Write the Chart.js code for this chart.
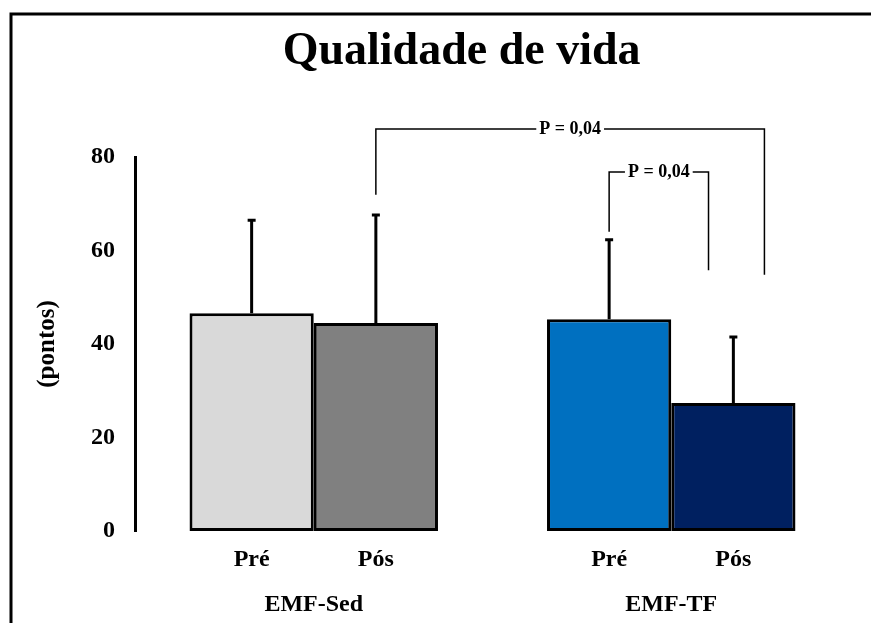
<!DOCTYPE html>
<html>
<head>
<meta charset="utf-8">
<script src="https://cdn.jsdelivr.net/npm/chart.js@4"></script>
<style>
    body { margin: 0; background: #fff; }
    #wrap { width: 871px; height: 623px; }
</style>
</head>
<body>
<div id="wrap"><canvas id="myChart"></canvas></div>
<script>
// data
var chartTitle = 'Qualidade de vida';
var groups = ['EMF-Sed', 'EMF-TF'];
var phases = ['Pré', 'Pós'];
var preMean = [46.6, 45.3];
var posMean = [44.5, 27.4];
var preSD = [20.1, 17.2];
var posSD = [23.3, 14.3];
var preColors = ['#d9d9d9', '#0070c0'];
var posColors = ['#808080', '#002060'];

// significance brackets (y values in points)
var bracketText = ['P = 0,04', 'P = 0,04'];
var bracketTop = [86, 76.8];
var bracketLeftEnd = [71.9, 64];
var bracketRightEnd = [54.8, 55.8];
var bracketFrom = [[1, 0, 0], [0, 1, 0]];      // [dataset, bar, offset in bar widths]
var bracketTo = [[1, 1, 0.25], [1, 1, -0.2]];

var serif = "'Liberation Serif', 'Times New Roman', serif";

var decorPlugin = {
    id: 'decor',
    beforeDraw: function(chart) {
        var c = chart.ctx;
        c.save();
        c.fillStyle = '#fff';
        c.fillRect(0, 0, chart.width, chart.height);
        c.restore();
    },
    afterDraw: function(chart) {
        var c = chart.ctx;
        var y = chart.scales.y;
        var sds = [preSD, posSD];
        c.save();

        // frame (top and left only)
        c.strokeStyle = '#000';
        c.lineWidth = 3;
        c.beginPath();
        c.moveTo(chart.width, 14);
        c.lineTo(11, 14);
        c.lineTo(11, chart.height);
        c.stroke();

        // title, a bit right of centre like the original
        c.fillStyle = '#000';
        c.textAlign = 'center';
        c.textBaseline = 'alphabetic';
        c.font = 'bold 46px ' + serif;
        c.fillText(chartTitle, chart.width * 0.53, 64);

        // error bars + phase labels
        c.font = 'bold 24px ' + serif;
        c.textBaseline = 'middle';
        for (var d = 0; d < 2; d++) {
            var meta = chart.getDatasetMeta(d);
            meta.data.forEach(function(bar, i) {
                var val = chart.data.datasets[d].data[i];
                var top = y.getPixelForValue(val + sds[d][i]);
                c.lineWidth = 3;
                c.beginPath();
                c.moveTo(bar.x, bar.y);
                c.lineTo(bar.x, top);
                c.moveTo(bar.x - 4, top + 1);
                c.lineTo(bar.x + 4, top + 1);
                c.stroke();
                c.fillText(phases[d], bar.x, chart.chartArea.bottom + 29);
            });
        }

        // brackets
        c.lineWidth = 1.5;
        c.font = 'bold 18px ' + serif;
        for (var b = 0; b < bracketText.length; b++) {
            var f = bracketFrom[b], t = bracketTo[b];
            var b1 = chart.getDatasetMeta(f[0]).data[f[1]];
            var b2 = chart.getDatasetMeta(t[0]).data[t[1]];
            var x1 = b1.x + f[2] * b1.width;
            var x2 = b2.x + t[2] * b2.width;
            var yt = y.getPixelForValue(bracketTop[b]);
            var mid = (x1 + x2) / 2;
            var half = c.measureText(bracketText[b]).width / 2 + 3;
            c.beginPath();
            c.moveTo(x1, y.getPixelForValue(bracketLeftEnd[b]));
            c.lineTo(x1, yt);
            c.lineTo(mid - half, yt);
            c.moveTo(mid + half, yt);
            c.lineTo(x2, yt);
            c.lineTo(x2, y.getPixelForValue(bracketRightEnd[b]));
            c.stroke();
            c.fillText(bracketText[b], mid, yt);
        }
        c.restore();
    }
};

window.onload = function() {
    var ctx = document.getElementById('myChart').getContext('2d');

    var myChart = new Chart(ctx, {
        type: 'bar',
        data: {
            labels: groups,
            datasets: [
                {
                    label: phases[0],
                    data: preMean,
                    backgroundColor: preColors,
                    borderColor: '#000',
                    borderWidth: 3,
                    borderSkipped: false,
                    barPercentage: 1.0,
                    categoryPercentage: 0.695
                },
                {
                    label: phases[1],
                    data: posMean,
                    backgroundColor: posColors,
                    borderColor: '#000',
                    borderWidth: 3,
                    borderSkipped: false,
                    barPercentage: 1.0,
                    categoryPercentage: 0.695
                }
            ]
        },
        options: {
            responsive: true,
            maintainAspectRatio: false,
            animation: false,
            layout: {
                padding: { left: 0, right: 21, top: 157, bottom: 0 }
            },
            scales: {
                y: {
                    min: 0,
                    max: 80,
                    grid: { display: false },
                    border: { display: true, color: '#000', width: 3 },
                    ticks: {
                        stepSize: 20,
                        padding: 12,
                        color: '#000',
                        font: { family: serif, size: 24, weight: 'bold' }
                    },
                    title: {
                        display: true,
                        text: '(pontos)',
                        color: '#000',
                        padding: { top: 33, bottom: 0 },
                        font: { family: serif, size: 25, weight: 'bold' }
                    },
                    afterFit: function(scale) { scale.width = 135; }
                },
                x: {
                    grid: { display: false },
                    border: { display: false },
                    ticks: {
                        padding: 51,
                        color: '#000',
                        font: { family: serif, size: 24, weight: 'bold' }
                    },
                    afterFit: function(scale) { scale.height = 92; }
                }
            },
            plugins: {
                legend: { display: false },
                tooltip: { enabled: false },
                title: { display: false }
            }
        },
        plugins: [decorPlugin]
    });
};
</script>
</body>
</html>
